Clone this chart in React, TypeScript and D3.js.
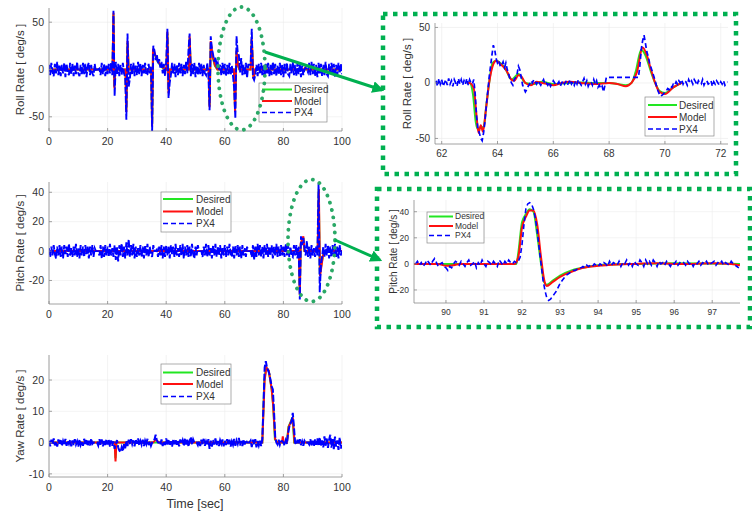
import React from 'react';
import * as d3 from 'd3';

type Pt = [number, number];

// ---------- DATA ----------
// Main roll panel: PX4 samples every 0.4 s from t = 0
const rollPx4T0 = 0;
const rollPx4Dt = 0.4;
const rollPx4 = [
  5, -6, 7, -3, -7, 6, -4, 8, -6, 4,
  -7, 5, -4, 7, -8, 6, -3, -6, 7, -5,
  6, -7, 4, -5, 8, -4, -7, 5, -6, 7,
  -5, 6, -8, 4, 7, -6, 5, -4, -7, 6,
  -2, 0, 0, 1, -6, 7, -5, 6, -7, 4,
  -5, 6, -4, 7, -6, 62, -28, 8, -5, 6,
  -7, 5, -6, 7, -4, -8, -53, 38, -18, -10,
  6, -5, 7, -7, 4, -6, 8, -5, 6, -7,
  5, -4, 7, -6, -5, 6, -4, 3, -65, 25,
  20, 10, 16, 6, 11, 2, 8, -4, 6, -7,
  8, 43, -30, -14, -6, 7, -5, 6, -8, 5,
  -6, 7, -4, 6, -7, 5, -5, 8, -4, 20,
  38, -7, 6, -5, 7, -8, 4, -6, 7, -5,
  6, -7, 5, -4, -6, 7, -5, -43, 35, 22,
  16, 8, 13, 4, 7, -1, 5, -6, 7, -5,
  6, -7, 5, -5, 7, -6, 4, -7, -20, -52,
  35, 18, 15, -3, 12, -6, 5, -6, 7, -9,
  5, 5, 5, 43, -8, -11, -6, 5, -7, 6,
  -5, 7, -6, 4, -8, 6, -4, 7, -7, 5,
  -6, 8, -5, 6, -7, 4, -5, 7, -6, 5,
  -8, 6, -4, 7, -5, -7, 6, -4, 8, -6,
  5, -7, 7, -5, 6, -8, 4, -6, 0, 2,
  0, -3, 7, -6, 8, -5, 6, -7, 5, -8,
  7, -4, 6, -7, 5, -6, 8, -5, -7, 6,
  -5, 7, -4, 6, -8, 5, -6, 7, -4, 6,
  -5,
];
const rollModel: Pt[] = [
  [0, 0], [21.7, 0], [22.0, 60], [22.3, -20], [22.6, 0], [26.1, 0], [26.4, -45], [26.8, 30], [27.2, 0],
  [34.9, 0], [35.2, -60], [35.5, 22], [36.2, 16], [37, 10], [38, 5], [39, 2], [40.1, 0], [40.4, 40],
  [40.8, -25], [41.2, 0], [47.7, 0], [48, 35], [48.4, 0], [54.5, 0], [54.8, -40], [55.2, 30], [55.8, 15],
  [56.6, 5], [57.5, 0], [63.1, 0], [63.5, -45], [64, 20], [64.5, 5], [65, 0], [68.8, 0], [69.2, 32],
  [69.8, -10], [70.4, 0], [87, 0], [87.4, 2], [87.8, 0], [100, 0],
];
const rollDesired: Pt[] = [
  [0, 0], [21.7, 0], [22.0, 58], [22.3, -18], [22.6, 0], [26.1, 0], [26.4, -42], [26.8, 28], [27.2, 0],
  [34.9, 0], [35.2, -58], [35.5, 20], [36.2, 15], [37, 9], [38, 4], [39, 1], [40.1, 0], [40.4, 38],
  [40.8, -22], [41.2, 0], [47.7, 0], [48, 33], [48.4, 0], [54.5, 0], [54.8, -38], [55.2, 28], [55.8, 14],
  [56.6, 4], [57.5, 0], [63.1, 0], [63.5, -42], [64, 19], [64.5, 4], [65, 0], [68.8, 0], [69.2, 30],
  [69.8, -9], [70.4, 0], [100, 0],
];

// Main pitch panel
const pitchPx4T0 = 0;
const pitchPx4Dt = 0.4;
const pitchPx4 = [
  2, -4, 3, -3, 4, -2, -5, 3, -3, 4,
  -4, 3, -5, 4, -2, 3, -4, 5, -3, 2,
  -4, 3, -3, 5, -4, 2, -5, 4, -3, 3,
  -4, 4, -2, 3, -5, 3, -3, 4, -4, 2,
  0, 0, 0, -3, 4, -5, 3, -4, 4, -3,
  3, -4, 5, -3, 2, -4, 4, -6, 3, -7,
  4, -3, 5, -4, 3, -5, 6, -3, 8, -4,
  4, -3, 5, -5, 3, -4, 2, -3, 4, -4,
  3, -5, 4, -3, 5, -4, 3, -2, -4, 4,
  0, 0, 1, -4, 3, -3, 4, -5, 3, -4,
  4, -3, 3, -5, 4, -2, 3, -4, 5, -3,
  2, -4, 4, -3, 5, -5, 3, -3, 4, -4,
  3, -4, 5, -2, -5, 3, -3, 4, 0, 0,
  0, -4, 3, -3, 5, -4, 4, -3, 2, -5,
  4, -3, 5, -4, 3, -3, 4, -5, 2, -3,
  4, -4, 3, -3, 5, -2, -4, 3, -5, 4,
  -3, 4, -4, 3, -5, 4, -3, 2, -4, 3,
  0, 0, 0, -4, 4, -6, 3, -4, 5, -3,
  4, -4, 3, -5, 4, -3, 5, -4, 3, -3,
  4, -5, 3, -3, 5, -4, 3, -4, 4, -3,
  3, -4, 5, -3, 4, -4, 3, -3, -4, 4,
  -3, 4, -5, 3, -33, 10, 4, 9, 2, -3,
  7, -4, 3, -5, 4, -3, 2, -4, 3, -3,
  46, -28, -10, -4, 3, -4, 5, -3, 4, -5,
  3, -4, 4, -3, 5, -4, 3, -5, 4, -3,
  2,
];
const pitchModel: Pt[] = [
  [0, -2], [0.6, 0], [85.3, 0], [85.6, -30], [85.9, 5], [86.4, 8], [86.8, 10], [87.2, 0], [91.7, 0],
  [92.1, 42], [92.5, -17], [93, -10], [93.5, -3], [94.5, 0], [100, 0],
];
const pitchDesired: Pt[] = [
  [0, -1], [0.6, 0], [85.3, 0], [85.6, -28], [85.9, 4], [86.4, 7], [86.8, 9], [87.2, 0], [91.7, 0],
  [92.05, 42], [92.45, -16], [93, -9], [93.5, -3], [94.5, 0], [100, 0],
];

// Main yaw panel
const yawPx4T0 = 0;
const yawPx4Dt = 0.4;
const yawPx4 = [
  0.6, -1.2, 0.9, -0.6, 1.3, -0.9, 0.4, -1.3, 1, -0.5,
  0.8, -1.1, 0.5, -0.7, 1.2, -1, 0.6, -0.4, 0.9, -1.2,
  0.7, -0.8, 1.1, -0.6, 0.4, -1.3, 1, -0.7, 0.5, -1,
  1.2, -0.5, 0.8, -1.1, 0.6, -0.9, 1.3, -0.4, 0, 0,
  0, 0, -0.9, 1.1, -0.7, 1, -1.2, 0.5, -0.8, 1.1,
  -0.6, 0.9, -1.3, 0.7, -1, 0.4, -2, -0.5, 0.8, -1.5,
  -2.5, -3, -1.5, -2.8, -0.5, -1.8, 0.6, -1.1, 0.9, -0.7,
  1.1, -0.5, 0.7, -1.2, 1, -0.4, 1.3, -0.9, 0.5, -0.7,
  0.9, -1.1, 0.6, -0.5, 1.2, -0.8, 0.4, -1, 0, 0.5,
  1, 2.5, 0.8, 0, 0, -0.7, 1, -1.1, 0.5, -0.8,
  1.3, -0.6, 0.8, -1, 0.4, -1.3, 0.9, -0.5, 1.1, -0.7,
  0.6, -1.2, 1, -0.4, 0.7, -1.1, 1.4, -0.6, 0.9, -1.3,
  0.5, 1.8, -0.7, 1, 0, 0, 0, -0.8, 0.6, -1.1,
  0.9, -0.5, 1.2, -1, 0.4, -0.7, 1.1, -2, 0.6, -1.3,
  0.8, -0.6, 1.3, -0.9, 0.5, -1.1, 0.7, -0.4, 1, -1.2,
  0.6, -0.8, 1.1, -0.5, 0.9, -1.3, 0.4, -0.7, 1.2, -1,
  0.7, -0.4, 1.5, -0.9, 0.5, -1.1, 1, -0.6, 0.8, 0,
  0, 0, 0.6, -1.4, 0.9, -0.7, 1.1, -1.5, 0.5, -0.9,
  0.6, -1.1, 1, 12, 24, 26, 24, 23, 22, 20,
  18, 17, 10, 2, 0, -0.6, 0.9, -0.7, 0.4, 0.5,
  0, -0.9, 0.7, -0.4, 3, 5, 6, 7, 9.5, 5,
  0, -0.7, 0.9, -0.5, 1.1, -0.8, 0.4, -1, 0.6, 0,
  0, 0, -0.6, 1.1, -0.9, 0.6, -1.2, 1, -0.7, 1.3,
  -1.1, 1.6, -0.9, 0.7, -1.5, 2, -1, 1.3, -1.7, 0.9,
  2.5, -1.6, 1.1, -2.1, 1.9, -1.3, 0.7, -2.3, 1.6, -1.9,
  -0.8,
];
const yawModel: Pt[] = [
  [0, 0], [22.4, 0], [22.7, -6], [23, 0], [35.5, 0], [36.5, 1], [37.5, 0], [72.8, 0], [73.6, 20],
  [74.2, 24], [75, 23], [76, 17], [76.5, 12], [77.2, 1], [78, 0], [79.5, 0], [79.8, 2], [80.1, 0],
  [81.2, 0], [81.8, 5], [83.2, 8], [83.8, 0], [100, 0],
];
const yawDesired: Pt[] = [
  [0, 0], [22.4, 0], [22.7, -5], [23, 0], [72.8, 0], [73.5, 20], [74.1, 24], [75, 23], [76, 17],
  [76.5, 12], [77.1, 1], [78, 0], [81.2, 0], [81.7, 5], [83.1, 8], [83.7, 0], [100, 0],
];

// Zoomed roll panel: PX4 samples every 0.05 s from t = 61.8
const rollZoomPx4T0 = 61.8;
const rollZoomPx4Dt = 0.05;
const rollZoomPx4 = [
  2, -3, 4, -1, 3, -3, 0, 3, -2, 4, -1, 2, -3, 3, 0, -3, 4, -1, 3, -2,
  2, -1, 4, -2, 3, 0, -1, 3, -10, -30, -42, -45, -50, -52, -45, -35, -20, -8, 5, 15,
  25, 34, 30, 22, 18, 20, 15, 16, 19, 14, 18, 12, 8, 3, 0, -2, 3, 5, 8, 15,
  12, 5, -2, -5, -8, -6, -3, -1, 2, 0, 3, 1, -1, 2, 0, -2, 1, 3, -1, 0,
  -2, 1, -3, -1, 2, 0, -2, -1, 1, -3, 0, 2, -1, 1, -2, 0, 3, -1, 1, -2,
  2, -1, 3, 0, -2, 1, 4, -1, 2, -3, 0, 1, -2, 3, -1, 2, -4, -2, -5, -3,
  -8, -2, 5, 5, 5, 5, 5, 5, 5, 5, 5, 5, 5, 5, 5, 5, 5, 5, 5, 5,
  5, 5, 5, 5, 5, 5, 15, 30, 38, 43, 36, 28, 24, 18, 14, 10, 6, 2, -3, -7,
  -10, -12, -11, -10, -8, -7, -5, -6, -3, -4, -1, -2, 1, -1, 2, 0, 3, -1, 2, 1,
  -2, 3, 0, 2, -1, 3, 1, -2, 2, 0, -1, 3, -2, 1, 2, -1, 0, 2, -3, 1,
  -1, 2, 0, -2, 1, -1, 2, -2, 0, 1,
];
const rollZoomModel: Pt[] = [
  [62.9, 0], [63.0, 0], [63.15, -5], [63.25, -30], [63.32, -45], [63.4, -38], [63.48, -44], [63.58, -25],
  [63.7, 0], [63.85, 17], [63.95, 20], [64.1, 17], [64.3, 12], [64.5, 3], [64.6, 2], [64.75, 7],
  [64.85, 6], [65.0, 0], [65.2, -2], [65.4, 1], [65.6, 0], [65.8, -1], [66.0, -2], [66.3, 0], [66.6, 1],
  [67, 0], [67.5, -1], [68, 0], [68.3, -1], [68.6, -3], [68.8, 0], [69.0, 10], [69.2, 32], [69.35, 25],
  [69.5, 12], [69.65, 0], [69.8, -8], [70.0, -10], [70.3, -4], [70.6, 0],
];
const rollZoomDesired: Pt[] = [
  [62.9, 0], [63.0, 0], [63.12, -10], [63.22, -35], [63.3, -42], [63.4, -40], [63.5, -40], [63.6, -20],
  [63.7, 0], [63.82, 18], [63.95, 20], [64.1, 18], [64.3, 12], [64.5, 3], [64.75, 8], [65.0, 0],
  [65.3, -1], [65.6, 1], [66, -1], [66.5, 0], [67, 0.5], [67.5, 0], [68, 0], [68.3, -1], [68.6, -2],
  [68.8, 0], [68.95, 10], [69.15, 30], [69.3, 25], [69.5, 10], [69.65, 0], [69.8, -7], [70, -9],
  [70.3, -4], [70.6, 0],
];

// Zoomed pitch panel: PX4 samples every 0.05 s from t = 89.2
const pitchZoomPx4T0 = 89.2;
const pitchZoomPx4Dt = 0.05;
const pitchZoomPx4 = [
  0, 2, -1, 1, -2, 0, 3, 1, -1, 2, 4, 1, -2, 0, 1, -2, -3, -5, -2, -3,
  0, 2, 1, -1, 2, 0, -2, 1, 3, -1, 0, 2, -3, 1, -1, 3, 0, -2, 2, 1,
  -1, 2, 0, -2, 3, 1, -1, 2, 0, 3, 1, 0, 2, 1, 2, 5, 15, 30, 42, 46,
  47, 46, 42, 35, 25, 12, 0, -12, -20, -26, -28, -27, -25, -23, -21, -18, -15, -13, -11, -9,
  -8, -7, -6, -5, -5, -4, -3, -3, -2, -3, -1, -2, -1, -2, 0, -1, -2, 0, -1, 1,
  0, -2, 2, -1, 1, 0, -1, 2, -2, 1, 0, 3, -1, 1, -2, 2, 0, -1, 3, 1,
  -2, 3, 0, 2, -1, 3, 1, -2, 2, 0, 1, -1, 2, 0, -2, 1, 0, 2, -1, 1,
  0, 1, -1, 2, 0, 1, -2, 1, 0, 2, -1, 1, 0, 2, -1, 0, 1, 2, -1, 1,
  0, 2, -1, 1, 0, -1, 2, 0, -1, -2, -3,
];
const pitchZoomModel: Pt[] = [
  [89.16, 0], [89.8, 0], [90.0, -1.5], [90.2, -1], [90.4, 0], [91.8, 0], [91.9, 5], [92.0, 28],
  [92.1, 36], [92.2, 41], [92.3, 41], [92.4, 30], [92.5, 5], [92.58, -12], [92.65, -17], [92.8, -14],
  [93.0, -10], [93.3, -6], [93.6, -3], [94, -1.5], [94.5, -0.5], [95, 0], [95.5, 0.5], [96, 0],
  [96.5, 0], [97, 0.5], [97.5, 0], [97.73, -1],
];
const pitchZoomDesired: Pt[] = [
  [89.16, 0], [91.85, 0], [91.9, 8], [92.0, 32], [92.1, 38], [92.2, 42], [92.3, 40], [92.4, 22],
  [92.5, 0], [92.58, -14], [92.65, -16], [92.8, -13], [93, -9], [93.3, -5], [93.6, -3], [94, -1],
  [95, 0], [96, 0.5], [97.73, 0],
];

const mainXTicks = [0, 20, 40, 60, 80, 100];
const rollYTicks = [-50, 0, 50];
const pitchYTicks = [-20, 0, 20, 40];
const yawYTicks = [-10, 0, 10, 20];
const rollZoomXTicks = [62, 64, 66, 68, 70, 72];
const pitchZoomXTicks = [90, 91, 92, 93, 94, 95, 96, 97];
const legendNames = ['Desired', 'Model', 'PX4'];

// ---------- RENDERING ----------
const GREEN = '#22e622';
const RED = '#ff1010';
const BLUE = '#0000ff';
const HL = '#00b050';
const FONT = 'Liberation Sans, Arial, sans-serif';

const sample = (vals: number[], t0: number, dt: number): Pt[] =>
  vals.map((v, i) => [t0 + i * dt, v] as Pt);

interface Legend { x: number; y: number; w: number; h: number; lx1: number; lx2: number; tx: number; rows: number[]; font: number; }
interface Cfg {
  id: string; left: number; right: number; top: number; bottom: number;
  xDomain: [number, number]; yDomain: [number, number]; xTicks: number[]; yTicks: number[];
  tickFont: number; labelFont: number; yLabel: string; yLabelX: number;
  desired: Pt[]; model: Pt[]; px4: Pt[]; smooth: boolean; legend: Legend; pxWidth: number; dash: string;
}

function Panel({ c }: { c: Cfg }) {
  const x = d3.scaleLinear().domain(c.xDomain).range([c.left, c.right]);
  const y = d3.scaleLinear().domain(c.yDomain).range([c.bottom, c.top]);
  const lin = d3.line<Pt>().x(d => x(d[0])).y(d => y(d[1]));
  const sm = d3.line<Pt>().x(d => x(d[0])).y(d => y(d[1])).curve(d3.curveMonotoneX);
  const ref = c.smooth ? sm : lin;
  const L = c.legend;
  const midY = (c.top + c.bottom) / 2;
  return (
    <g>
      <defs>
        <clipPath id={c.id}>
          <rect x={c.left} y={c.top - 1} width={c.right - c.left} height={c.bottom - c.top + 2} />
        </clipPath>
      </defs>
      {c.xTicks.map(t => (
        <line key={'gx' + t} x1={x(t)} x2={x(t)} y1={c.top} y2={c.bottom} stroke="#ebebeb" strokeWidth={0.6} />
      ))}
      {c.yTicks.map(t => (
        <line key={'gy' + t} x1={c.left} x2={c.right} y1={y(t)} y2={y(t)} stroke="#ebebeb" strokeWidth={0.6} />
      ))}
      <g clipPath={`url(#${c.id})`}>
        <path d={ref(c.desired) || ''} fill="none" stroke={GREEN} strokeWidth={2} />
        <path d={ref(c.model) || ''} fill="none" stroke={RED} strokeWidth={2} />
        <path d={lin(c.px4) || ''} fill="none" stroke={BLUE} strokeWidth={c.pxWidth} strokeDasharray={c.dash} />
      </g>
      <line x1={c.left} x2={c.left} y1={c.top} y2={c.bottom} stroke="#8a8a8a" strokeWidth={0.8} />
      <line x1={c.left} x2={c.right} y1={c.bottom} y2={c.bottom} stroke="#8a8a8a" strokeWidth={0.8} />
      {c.xTicks.map(t => (
        <g key={'tx' + t}>
          <line x1={x(t)} x2={x(t)} y1={c.bottom} y2={c.bottom - 3} stroke="#8a8a8a" strokeWidth={0.8} />
          <text x={x(t)} y={c.bottom + c.tickFont + 3} textAnchor="middle" fontSize={c.tickFont} fontFamily={FONT} fill="#333">{t}</text>
        </g>
      ))}
      {c.yTicks.map(t => (
        <g key={'ty' + t}>
          <line x1={c.left} x2={c.left + 3} y1={y(t)} y2={y(t)} stroke="#8a8a8a" strokeWidth={0.8} />
          <text x={c.left - 5} y={y(t)} dy="0.35em" textAnchor="end" fontSize={c.tickFont} fontFamily={FONT} fill="#333">{t}</text>
        </g>
      ))}
      <text transform={`translate(${c.yLabelX},${midY}) rotate(-90)`} textAnchor="middle" dy="0.35em"
        fontSize={c.labelFont} fontFamily={FONT} fill="#333">{c.yLabel}</text>
      <g>
        <rect x={L.x} y={L.y} width={L.w} height={L.h} fill="#fff" stroke="#8a8a8a" strokeWidth={0.7} />
        {legendNames.map((n, i) => (
          <g key={n}>
            <line x1={L.lx1} x2={L.lx2} y1={L.rows[i]} y2={L.rows[i]}
              stroke={[GREEN, RED, BLUE][i]} strokeWidth={i === 2 ? 1.6 : 2}
              strokeDasharray={i === 2 ? '5 3' : undefined} />
            <text x={L.tx} y={L.rows[i]} dy="0.35em" fontSize={L.font} fontFamily={FONT} fill="#333">{n}</text>
          </g>
        ))}
      </g>
    </g>
  );
}

export default function App() {
  const panels: Cfg[] = [
    {
      id: 'cRoll', left: 49, right: 342, top: 8, bottom: 131, xDomain: [0, 100], yDomain: [-65, 65],
      xTicks: mainXTicks, yTicks: rollYTicks, tickFont: 10.5, labelFont: 11.5, yLabel: 'Roll Rate [ deg/s ]', yLabelX: 20,
      desired: rollDesired, model: rollModel, px4: sample(rollPx4, rollPx4T0, rollPx4Dt), smooth: false, pxWidth: 1.9, dash: '7 2',
      legend: { x: 259, y: 83, w: 68, h: 39, lx1: 262, lx2: 292, tx: 294, rows: [89.5, 101, 112.5], font: 10 },
    },
    {
      id: 'cPitch', left: 49, right: 342, top: 182, bottom: 304, xDomain: [0, 100], yDomain: [-36, 47],
      xTicks: mainXTicks, yTicks: pitchYTicks, tickFont: 10.5, labelFont: 11.5, yLabel: 'Pitch Rate [ deg/s ]', yLabelX: 20,
      desired: pitchDesired, model: pitchModel, px4: sample(pitchPx4, pitchPx4T0, pitchPx4Dt), smooth: false, pxWidth: 1.9, dash: '7 2',
      legend: { x: 161, y: 192, w: 70, h: 40, lx1: 163, lx2: 193, tx: 196, rows: [199, 211.5, 223.5], font: 10 },
    },
    {
      id: 'cYaw', left: 49, right: 342, top: 355, bottom: 477, xDomain: [0, 100], yDomain: [-11, 28],
      xTicks: mainXTicks, yTicks: yawYTicks, tickFont: 10.5, labelFont: 11.5, yLabel: 'Yaw Rate [ deg/s ]', yLabelX: 20,
      desired: yawDesired, model: yawModel, px4: sample(yawPx4, yawPx4T0, yawPx4Dt), smooth: false, pxWidth: 2, dash: '7 2',
      legend: { x: 161, y: 364, w: 70, h: 40, lx1: 163, lx2: 193, tx: 196, rows: [372.5, 384, 396.5], font: 10 },
    },
    {
      id: 'cRollZ', left: 435, right: 728, top: 23, bottom: 144, xDomain: [61.76, 72.26], yDomain: [-55, 54],
      xTicks: rollZoomXTicks, yTicks: rollYTicks, tickFont: 10, labelFont: 11.5, yLabel: 'Roll Rate [ deg/s ]', yLabelX: 407,
      desired: rollZoomDesired, model: rollZoomModel, px4: sample(rollZoomPx4, rollZoomPx4T0, rollZoomPx4Dt), smooth: true, pxWidth: 1.7, dash: '5 3',
      legend: { x: 645, y: 97, w: 69, h: 39, lx1: 648, lx2: 677, tx: 679, rows: [105, 117, 129], font: 10 },
    },
    {
      id: 'cPitchZ', left: 414, right: 740, top: 200, bottom: 303, xDomain: [89.16, 97.73], yDomain: [-30, 49],
      xTicks: pitchZoomXTicks, yTicks: pitchYTicks, tickFont: 8.5, labelFont: 10, yLabel: 'Pitch Rate [ deg/s ]', yLabelX: 393,
      desired: pitchZoomDesired, model: pitchZoomModel, px4: sample(pitchZoomPx4, pitchZoomPx4T0, pitchZoomPx4Dt), smooth: true, pxWidth: 1.6, dash: '5 3',
      legend: { x: 427, y: 212, w: 57, h: 31, lx1: 429, lx2: 453, tx: 455, rows: [216.5, 226, 235.5], font: 8.5 },
    },
  ];

  return (
    <svg width={752} height={516} style={{ position: 'absolute', left: 0, top: 0, background: '#fff' }}>
      <rect x={0} y={0} width={752} height={516} fill="#fff" />
      {panels.map(p => <Panel key={p.id} c={p} />)}
      <text x={195} y={508} textAnchor="middle" fontSize={12.5} fontFamily={FONT} fill="#333">Time [sec]</text>
      {/* highlight ellipses */}
      <ellipse cx={241.5} cy={68.5} rx={23.5} ry={61.5} fill="none" stroke="#2aa866" strokeWidth={3.8}
        strokeDasharray="0.1 7.4" strokeLinecap="round" />
      <ellipse cx={311.5} cy={240.5} rx={23.5} ry={61} fill="none" stroke="#2aa866" strokeWidth={3.8}
        strokeDasharray="0.1 7.4" strokeLinecap="round" />
      {/* zoom boxes */}
      <rect x={383} y={14} width={353} height={160} fill="none" stroke={HL} strokeWidth={4.5} strokeDasharray="4.5 5.5" />
      <rect x={377} y={189} width={373} height={138} fill="none" stroke={HL} strokeWidth={4.5} strokeDasharray="4.5 5.5" />
      {/* arrows */}
      <defs>
        <marker id="ah" viewBox="0 0 10 10" refX={8} refY={5} markerWidth={4} markerHeight={4} orient="auto">
          <path d="M0,0 L10,5 L0,10 z" fill={HL} />
        </marker>
      </defs>
      <line x1={265} y1={52} x2={382} y2={90} stroke={HL} strokeWidth={3} markerEnd="url(#ah)" />
      <line x1={335} y1={240} x2={380} y2={260} stroke={HL} strokeWidth={3} markerEnd="url(#ah)" />
    </svg>
  );
}
